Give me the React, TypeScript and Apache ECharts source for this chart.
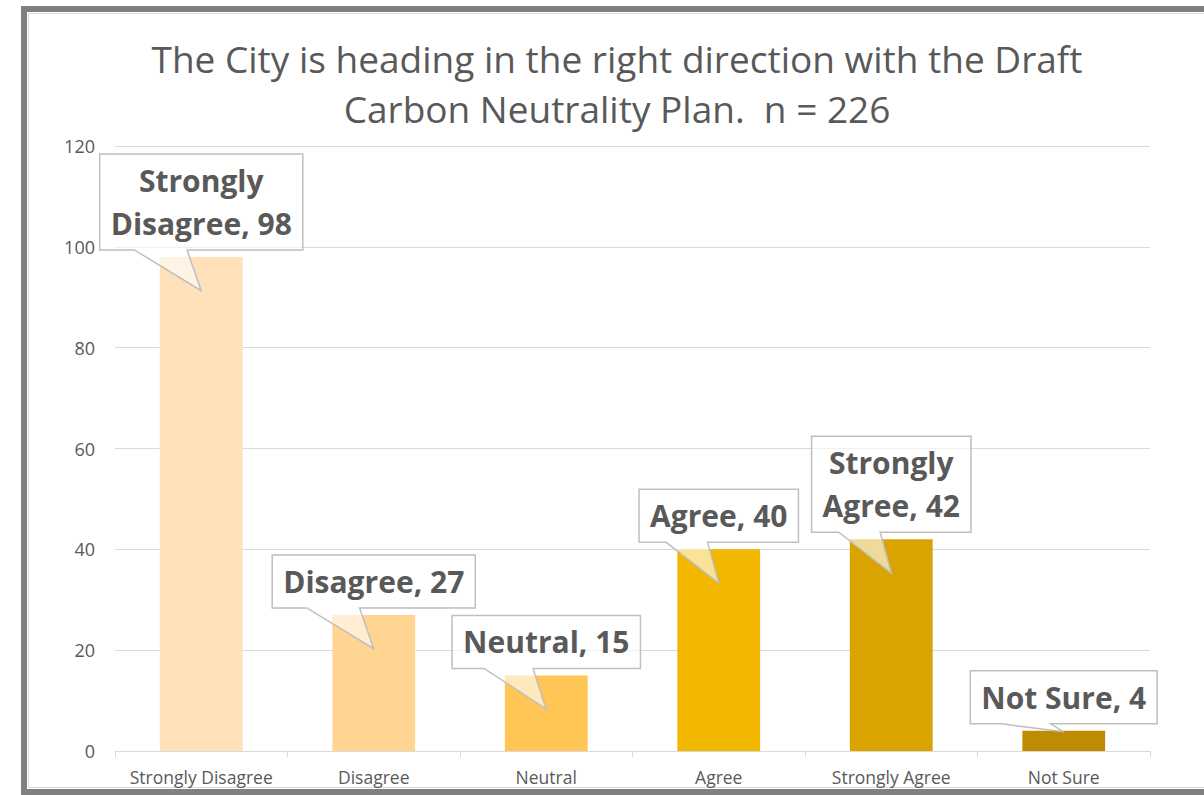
import React, { useEffect, useRef } from "react";
import * as echarts from "echarts";

const categories = ["Strongly Disagree", "Disagree", "Neutral", "Agree", "Strongly Agree", "Not Sure"];
const counts = [98, 27, 15, 40, 42, 4];
const barColors = ["#FFE0B8", "#FFD591", "#FFC655", "#F2B800", "#D9A400", "#BF8B00"];
const calloutLines = [
  ["Strongly", "Disagree, 98"],
  ["Disagree, 27"],
  ["Neutral, 15"],
  ["Agree, 40"],
  ["Strongly", "Agree, 42"],
  ["Not Sure, 4"],
];
const yTicks = { min: 0, max: 120, interval: 20 };
const titleText = "The City is heading in the right direction with the Draft\nCarbon Neutrality Plan.  n = 226";

const LABEL_FONT = 'bold 30px "Open Sans"';
const LINE_H = 43;
const PAD_X = 11;
const PAD_Y = 5;

export default function App() {
  const ref = useRef<HTMLDivElement>(null);
  useEffect(() => {
    if (!ref.current) return;
    const canvas = document.createElement("canvas");
    const ctx = canvas.getContext("2d")!;
    ctx.font = LABEL_FONT;
    const widths = calloutLines.map((ls) => Math.max(...ls.map((l) => ctx.measureText(l).width)));

    const chart = echarts.init(ref.current, null, { renderer: "svg" });
    chart.setOption({
      animation: false,
      backgroundColor: "#ffffff",
      grid: { left: 115, right: 54, top: 146, bottom: 44 },
      xAxis: {
        type: "category",
        data: categories,
        axisLine: { lineStyle: { color: "#d9d9d9", width: 1 } },
        axisTick: { show: true, interval: 0, length: 6, lineStyle: { color: "#d9d9d9" } },
        axisLabel: {
          interval: 0,
          hideOverlap: false,
          color: "#595959",
          fontSize: 17.5,
          fontFamily: "Open Sans",
          margin: 17,
        },
      },
      yAxis: {
        type: "value",
        min: yTicks.min,
        max: yTicks.max,
        interval: yTicks.interval,
        axisLine: { show: false },
        axisTick: { show: false },
        splitLine: { lineStyle: { color: "#d9d9d9", width: 1 } },
        axisLabel: { color: "#595959", fontSize: 18, fontFamily: "Open Sans", margin: 20 },
      },
      graphic: [
        {
          type: "rect",
          shape: { x: 24, y: 9, width: 1300, height: 783 },
          style: { fill: "none", stroke: "#808080", lineWidth: 6 },
          silent: true,
        },
        {
          type: "rect",
          shape: { x: 28.5, y: 13.5, width: 1300, height: 774 },
          style: { fill: "none", stroke: "#d9d9d9", lineWidth: 1 },
          silent: true,
        },
        {
          type: "text",
          x: 617,
          y: 83,
          style: {
            text: titleText,
            align: "center",
            verticalAlign: "middle",
            textAlign: "center",
            textVerticalAlign: "middle",
            font: '37px "Open Sans"',
            fill: "#595959",
            lineHeight: 50,
          },
        },
      ],
      series: [
        {
          type: "bar",
          barWidth: "48%",
          data: counts.map((v, i) => ({ value: v, itemStyle: { color: barColors[i] } })),
          z: 2,
        },
        {
          type: "custom",
          z: 5,
          data: counts.map((v, i) => [i, v]),
          renderItem: (params: any, api: any) => {
            const i = api.value(0);
            const v = api.value(1);
            const [cx, top] = api.coord([i, v]);
            const tipV = v > 8 ? v - 6.7 : v - 0.2;
            const [, tipY] = api.coord([i, tipV]);
            const lines = calloutLines[i];
            const w = widths[i] + PAD_X * 2;
            const h = lines.length * LINE_H + PAD_Y * 2;
            const bottom = top - 7;
            const topY = bottom - h;
            const left = cx - w / 2;
            const right = cx + w / 2;
            const pL = left + 0.17 * w;
            const pR = left + 0.43 * w;
            return {
              type: "group",
              children: [
                {
                  type: "polygon",
                  shape: {
                    points: [
                      [left, topY],
                      [right, topY],
                      [right, bottom],
                      [pR, bottom],
                      [cx, tipY],
                      [pL, bottom],
                      [left, bottom],
                    ],
                  },
                  style: { fill: "rgba(255,255,255,0.6)", stroke: "#BFBFBF", lineWidth: 1.5 },
                },
                {
                  type: "text",
                  x: cx,
                  y: (topY + bottom) / 2,
                  style: {
                    text: lines.join("\n"),
                    align: "center",
                    verticalAlign: "middle",
                    textAlign: "center",
                    textVerticalAlign: "middle",
                    font: LABEL_FONT,
                    fill: "#595959",
                    lineHeight: LINE_H,
                  },
                },
              ],
            };
          },
        },
      ],
    });
    return () => chart.dispose();
  }, []);
  return (
    <div
      ref={ref}
      style={{ position: "fixed", left: 0, top: 0, width: 1204, height: 795, background: "#fff" }}
    />
  );
}
